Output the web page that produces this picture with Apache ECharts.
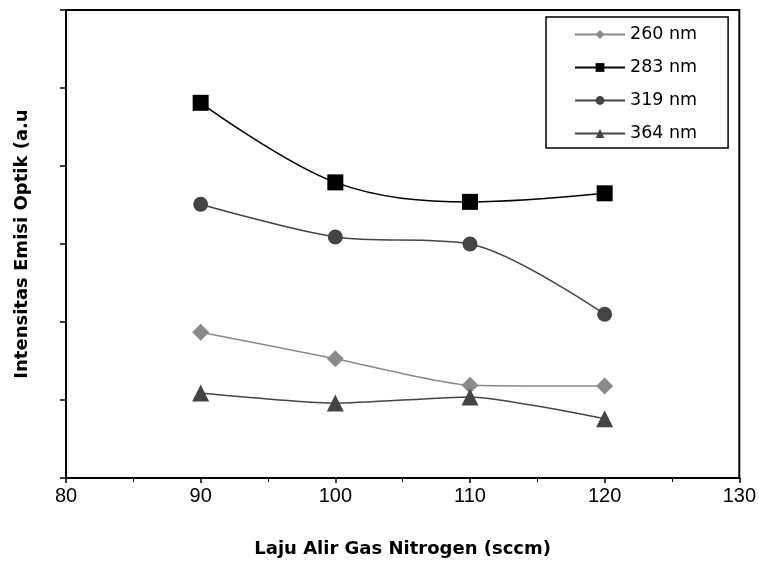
<!DOCTYPE html>
<html><head><meta charset="utf-8">
<script src="https://cdn.jsdelivr.net/npm/echarts@6/dist/echarts.min.js"></script>
<style>html,body{margin:0;padding:0;background:#fff}#c{width:759px;height:567px}</style>
</head><body><div id="c"></div>
<script>
const xValues = [90, 100, 110, 120];
const s260 = [1.87, 1.53, 1.19, 1.18];
const s283 = [4.81, 3.79, 3.54, 3.65];
const s319 = [3.51, 3.09, 3.00, 2.10];
const s364 = [1.09, 0.96, 1.04, 0.76];
const seriesNames = ['260 nm', '283 nm', '319 nm', '364 nm'];

const pair = arr => xValues.map((x, i) => [x, arr[i]]);
const font = 'DejaVu Sans, sans-serif';
const tickFont = 'Liberation Sans, Arial, sans-serif';
const chart = echarts.init(document.getElementById('c'));
chart.setOption({
  animation: false,
  backgroundColor: '#fff',
  grid: { left: 66, right: 18, top: 10, bottom: 89, show: true, borderColor: '#000', borderWidth: 2, backgroundColor: 'transparent' },
  xAxis: {
    type: 'value', min: 80, max: 130, interval: 10,
    name: 'Laju Alir Gas Nitrogen (sccm)', nameLocation: 'middle', nameGap: 62,
    nameTextStyle: { fontFamily: font, fontWeight: 'bold', fontSize: 18, color: '#000' },
    axisLine: { show: true, lineStyle: { color: '#000', width: 2 } },
    axisTick: { show: true, length: 5, lineStyle: { color: '#000', width: 1.5 } },
    minorTick: { show: true, splitNumber: 2, length: 4, lineStyle: { color: '#000' } },
    axisLabel: { fontFamily: tickFont, fontSize: 20, color: '#000', margin: 8 },
    splitLine: { show: false }
  },
  yAxis: {
    type: 'value', min: 0, max: 6, interval: 1,
    name: 'Intensitas Emisi Optik (a.u', nameLocation: 'middle', nameGap: 35,
    nameTextStyle: { fontFamily: font, fontWeight: 'bold', fontSize: 18, color: '#000' },
    axisLine: { show: true, lineStyle: { color: '#000', width: 2 } },
    axisTick: { show: true, length: 6, lineStyle: { color: '#000', width: 1.5 } },
    axisLabel: { show: false },
    splitLine: { show: false }
  },
  legend: {
    orient: 'vertical', left: 546, top: 17,
    backgroundColor: '#fff', borderColor: '#000', borderWidth: 1.5,
    padding: [7, 31, 4, 28], itemGap: 12, itemWidth: 50, itemHeight: 11,
    textStyle: { fontFamily: font, fontSize: 17.5, color: '#000', lineHeight: 21 },
    data: seriesNames
  },
  series: [
    { name: seriesNames[0], type: 'line', data: pair(s260), smooth: 0.2, symbol: 'diamond', symbolSize: 17,
      lineStyle: { color: '#8a8a8a', width: 1.5 }, itemStyle: { color: '#8a8a8a' } },
    { name: seriesNames[1], type: 'line', data: pair(s283), smooth: 0.35, symbol: 'rect', symbolSize: 16,
      lineStyle: { color: '#000', width: 1.5 }, itemStyle: { color: '#000' } },
    { name: seriesNames[2], type: 'line', data: pair(s319), smooth: 0.3, symbol: 'circle', symbolSize: 15,
      lineStyle: { color: '#444', width: 1.5 }, itemStyle: { color: '#444' } },
    { name: seriesNames[3], type: 'line', data: pair(s364), smooth: 0.2, symbol: 'triangle', symbolSize: 17,
      lineStyle: { color: '#444', width: 1.5 }, itemStyle: { color: '#444' } }
  ]
});
</script></body></html>
